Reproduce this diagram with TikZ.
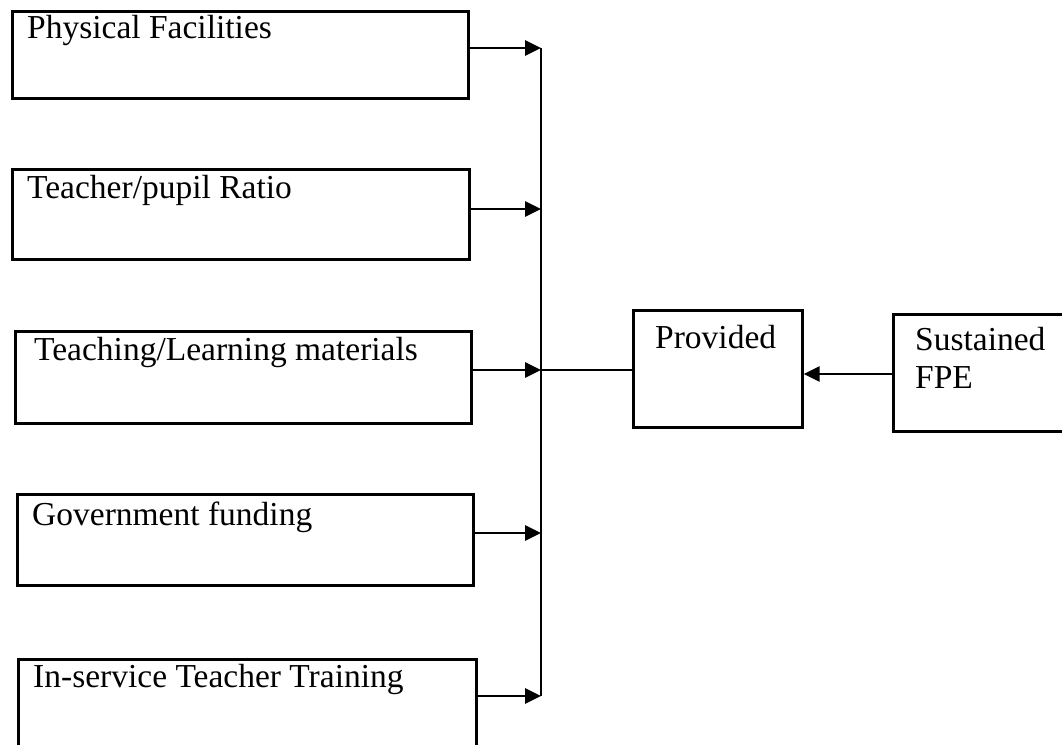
\documentclass[tikz,border=0pt]{standalone}
\usepackage{fontspec}
\setmainfont{Liberation Serif}
\usetikzlibrary{arrows.meta}
\begin{document}
\begin{tikzpicture}[x=1pt,y=-1pt,
  box/.style={draw=black, line width=2.6pt, rectangle, inner sep=0pt, anchor=north west},
  lbl/.style={anchor=base west, inner sep=0pt, font=\fontsize{33.5}{38}\selectfont},
  wire/.style={line width=2.8pt},
  arr/.style={line width=2.8pt, -{Triangle[length=16pt,width=15pt]}}]
\useasboundingbox (0,0) rectangle (1062,744);
\clip (0,0) rectangle (1062,744);
\fill[white] (0,0) rectangle (1062,744);
% left boxes
\node[box, minimum width=456pt, minimum height=87pt] (b1) at (11,10) {};
\node[box, minimum width=457pt, minimum height=90pt] (b2) at (11,168) {};
\node[box, minimum width=456pt, minimum height=92pt] (b3) at (14,330) {};
\node[box, minimum width=456pt, minimum height=91pt] (b4) at (16,493) {};
\node[box, minimum width=458pt, minimum height=110pt] (b5) at (17,658) {};
\node[lbl] (t1) at (27,38) {Physical Facilities};
\node[lbl] (t2) at (27,198) {Teacher/pupil Ratio};
\node[lbl] (t3) at (34,360) {Teaching/Learning materials};
\node[lbl] (t4) at (32,525) {Government funding};
\node[lbl] (t5) at (33,687) {In-service Teacher Training};
% right boxes
\node[box, minimum width=169pt, minimum height=117pt] (prov) at (632,309) {};
\node[box, minimum width=180pt, minimum height=117pt] (sus) at (892,313) {};
\node[lbl] (tp) at (655,348) {Provided};
\node[lbl, align=left] (ts) at (915,388) {Sustained\\FPE};
% junction points on the collector line
\coordinate (j1) at (541,48);
\coordinate (j2) at (541,209);
\coordinate (j3) at (541,370);
\coordinate (j4) at (541,533);
\coordinate (j5) at (541,696);
\draw[wire] (j1) -- (j5);
\draw[arr] (b1.east |- j1) -- (j1);
\draw[arr] (b2.east |- j2) -- (j2);
\draw[arr] (b3.east |- j3) -- (j3);
\draw[arr] (b4.east |- j4) -- (j4);
\draw[arr] (b5.east |- j5) -- (j5);
\draw[wire] (prov.west |- j3) -- (j3);
\coordinate (s1) at (892,374);
\draw[arr] (sus.west |- s1) -- (prov.east |- s1);
\end{tikzpicture}
\end{document}
